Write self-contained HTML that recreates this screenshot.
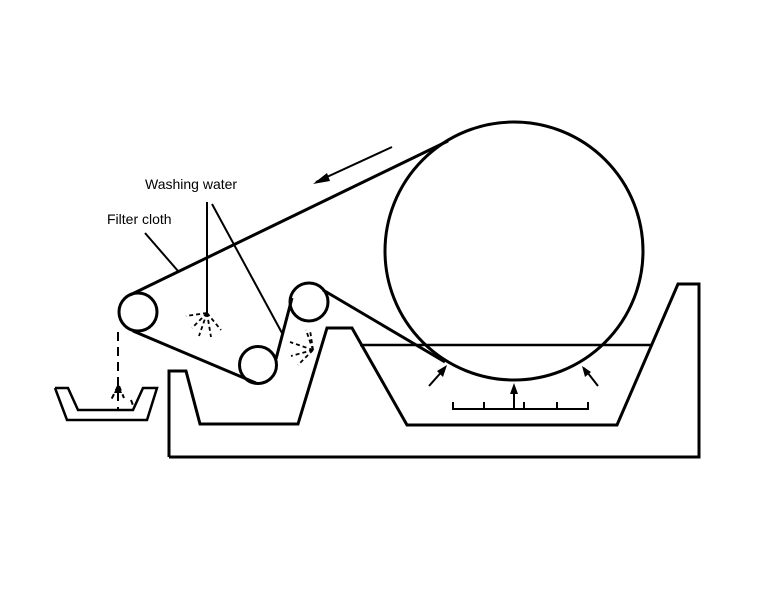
<!DOCTYPE html>
<html><head><style>body{margin:0;background:#fff}svg{display:block}</style></head><body>
<svg width="768" height="595" viewBox="0 0 768 595" xmlns="http://www.w3.org/2000/svg">
<g fill="none" stroke="#000" stroke-width="3" stroke-linejoin="miter">
<circle cx="514" cy="251" r="129"/>
<circle cx="138" cy="312" r="19"/>
<circle cx="258" cy="365" r="18.5"/>
<circle cx="309" cy="302" r="19"/>
<line x1="448" y1="141" x2="130" y2="295"/>
<line x1="133" y1="331" x2="256" y2="383"/>
<line x1="276" y1="359" x2="292" y2="298"/>
<line x1="323" y1="290" x2="445" y2="362"/>
<polyline points="169,457 169,371 186,371 200,424 298,424 327,328 352,328 407,425 617,425 678,284 699,284 699,457 169,457"/>
<line x1="360" y1="345" x2="652" y2="345" stroke-width="2.5"/>
<polyline points="55,388 67,420 147,420 157,388 143,388 133,410 78,410 68,388 55,388" stroke-width="2.5"/>
<polyline points="453,402 453,409 588,409 588,402" stroke-width="2"/>
<g stroke-width="2"><line x1="484" y1="402" x2="484" y2="409"/><line x1="524" y1="402" x2="524" y2="409"/><line x1="557" y1="402" x2="557" y2="409"/>
<line x1="514" y1="408" x2="514" y2="386"/><line x1="429" y1="386" x2="445" y2="368"/><line x1="598" y1="386" x2="584" y2="368"/>
<line x1="392" y1="147" x2="316" y2="182"/>
<line x1="207" y1="202" x2="207" y2="313"/><line x1="212" y1="204" x2="282" y2="333"/>
<line x1="145" y1="233" x2="178" y2="271"/></g>
<line x1="118" y1="332" x2="118" y2="410" stroke-width="2" stroke-dasharray="9,6"/>
<g stroke-width="2" stroke-dasharray="5,4"><line x1="118" y1="386" x2="110" y2="402"/><line x1="119" y1="386" x2="124" y2="398"/><line x1="131" y1="400" x2="134" y2="408"/></g>
<g stroke-width="1.8" stroke-dasharray="4,3"><line x1="207" y1="313" x2="186" y2="316"/><line x1="207" y1="313" x2="192" y2="328"/><line x1="207" y1="313" x2="199" y2="336"/><line x1="207" y1="313" x2="211" y2="337"/><line x1="207" y1="313" x2="221" y2="330"/>
<line x1="313" y1="350" x2="290" y2="342"/><line x1="313" y1="350" x2="291" y2="356"/><line x1="313" y1="350" x2="298" y2="365"/><line x1="313" y1="350" x2="306" y2="330"/><line x1="313" y1="350" x2="310" y2="330"/></g>
</g>
<g fill="#000">
<polygon points="313,184 327,173 330,181"/>
<polygon points="514,383 510,394 518,394"/>
<polygon points="447,365 437,371 443,377"/>
<polygon points="582,366 585,377 591,372"/>
<polygon points="118,384 114,393 122,393"/>
</g>
<g font-family="Liberation Sans, sans-serif" font-size="14" fill="#000">
<text x="145" y="189">Washing water</text>
<text x="107" y="224">Filter cloth</text>
</g>
</svg>
</body></html>
